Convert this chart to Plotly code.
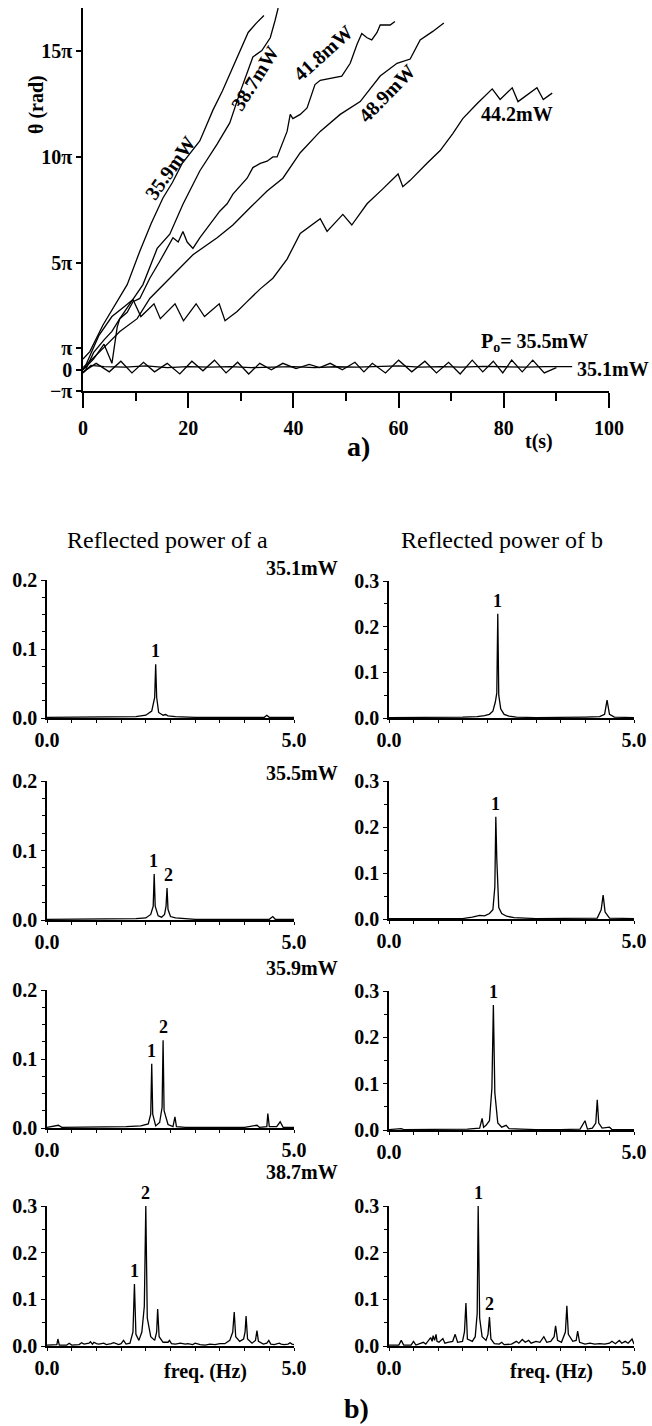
import plotly.graph_objects as go

# ---------------- Panel a) : phase theta(t), in units of pi ----------------
t_359 = [0, 1.3, 3.8, 6, 8.4, 10.8, 13, 15.2, 17, 18.8, 20.5, 22.2, 23.5, 24.7, 26.5, 28.5, 30, 31.4, 33, 34.4]
th_359 = [0.5, 0.85, 2.1, 3.0, 4.0, 5.57, 6.9, 8.07, 8.8, 9.67, 10.2, 10.75, 11.5, 12.2, 13.1, 14.2, 15.0, 15.85, 16.3, 16.65]

t_387 = [0.5, 2, 4, 5.5, 7, 9, 11.4, 14.1, 16.5, 19, 22.2, 25.5, 27.9, 29.8, 32.3, 34, 35.6, 36.5, 37.1]
th_387 = [0, 0.8, 1.4, 1.8, 2.4, 3.1, 4.0, 5.7, 6.37, 7.78, 9.34, 10.6, 11.6, 13.0, 14.7, 15.0, 15.6, 16.4, 17.0]

t_418 = [0, 2, 4, 5.5, 6.5, 7, 8.4, 9.5, 10.8, 12.7, 14.6, 16, 17.1, 18.1, 19, 19.8, 20.9, 22.2, 23.6, 24.7,
         26, 27.4, 28.5, 31.2, 32.3, 33.7, 35, 36.1, 36.9, 38.8, 39.4, 39.9, 41.3, 42.6, 44.1, 45.1, 47, 49.2,
         50.8, 52.1, 53, 54, 54.9, 55.9, 56.5, 58.4, 59.3]
th_418 = [0, 0.5, 1.2, 0.3, 2.0, 2.4, 2.7, 3.2, 3.35, 4.3, 5.1, 5.7, 6.2, 6.0, 6.5, 6.0, 5.7, 6.2, 6.65, 7.0,
          7.45, 7.8, 8.25, 9.0, 9.5, 9.7, 9.8, 10.0, 10.0, 11.2, 12.0, 11.8, 12.0, 12.3, 13.4, 13.6, 13.7, 13.8,
          14.4, 15.3, 15.8, 15.6, 15.5, 15.85, 16.2, 16.2, 16.37]

t_489 = [0, 3.2, 7, 10.3, 12.7, 16.5, 20.9, 25.5, 28.5, 31.7, 35, 38, 41.3, 45.1, 48.9, 52.7, 56.5, 59.7, 62.2, 64.1, 66.5, 68.6]
th_489 = [0.1, 0.85, 1.8, 2.4, 3.35, 4.3, 5.4, 6.2, 6.8, 7.6, 8.4, 9.0, 10.2, 11.2, 12.0, 12.6, 13.8, 14.4, 14.6, 15.5, 15.9, 16.3]

t_442 = [0, 0.4, 3.0, 5.5, 8.0, 9.5, 11.0, 13.5, 14.7, 17.5, 19.1, 21.5, 23.1, 25.9, 27.0, 29.3, 31.2, 33.7, 36.1,
         38.8, 41.3, 42.6, 45.1, 46.4, 49.4, 51.1, 54.0, 57.0, 59.9, 60.8, 62.2, 65.4, 67.9, 70.3, 72.2, 74.9,
         77.8, 79.3, 81.6, 82.7, 86.3, 87.5, 89.2]
th_442 = [0, 0.14, 1.6, 2.5, 3.0, 3.3, 2.5, 3.1, 2.4, 3.1, 2.3, 3.1, 2.5, 3.1, 2.3, 2.74, 3.2, 3.8, 4.3,
          5.2, 6.4, 6.65, 7.1, 6.5, 7.3, 6.8, 7.8, 8.5, 9.2, 8.6, 8.9, 9.7, 10.3, 11.1, 11.8, 12.5,
          13.2, 12.7, 13.25, 12.6, 13.25, 12.7, 13.0]

t_355 = [0, 2.5, 5, 7.2, 9.3, 11.5, 13.6, 16, 18.4, 20.7, 22.8, 25, 27.2, 29.4, 31.5, 33.6, 35.8, 38, 40.5, 43,
         45, 47, 49.3, 51.7, 53.4, 55, 57.5, 60, 62.5, 65, 67.2, 69.5, 71.7, 74, 76, 78, 79.8, 81.5, 83.5, 85.5,
         87.7, 90]
th_355 = [-0.1, 0.3, -0.1, 0.4, -0.15, 0.35, -0.1, 0.3, -0.2, 0.4, -0.05, 0.45, -0.15, 0.35, -0.2, 0.3, 0.0, 0.3,
          0.05, 0.25, 0.1, 0.3, 0.0, 0.35, -0.1, 0.3, -0.15, 0.45, -0.1, 0.4, -0.15, 0.35, -0.2, 0.45, -0.1, 0.4,
          -0.15, 0.45, -0.1, 0.45, -0.15, 0.1]

t_351 = [0, 1.5, 4, 8, 12, 16, 20, 24, 28, 32, 36, 40, 44, 48, 52, 56, 60, 64, 68, 72, 76, 80, 84, 88, 93]
th_351 = [-0.15, 0.2, 0.15, 0.12, 0.18, 0.1, 0.15, 0.12, 0.15, 0.1, 0.12, 0.15, 0.1, 0.14, 0.12, 0.15, 0.18,
          0.12, 0.15, 0.12, 0.16, 0.14, 0.12, 0.15, 0.15]

a_yticks = [-1, 0, 1, 5, 10, 15]
a_yticktext = ["\u2212\u03c0", "0", "\u03c0", "5\u03c0", "10\u03c0", "15\u03c0"]
a_xticks = [0, 20, 40, 60, 80, 100]

# ---------------- Panel b) : spectra (freq in Hz, amplitude) ----------------
f_a1 = [0, 0.5, 1.0, 1.5, 1.8, 2.0, 2.12, 2.18, 2.2, 2.22, 2.26, 2.35, 2.4, 2.45, 2.6, 3.0, 3.5, 4.0, 4.4, 4.45, 4.5, 5.0]
p_a1 = [0.001, 0.001, 0.001, 0.001, 0.002, 0.004, 0.01, 0.03, 0.078, 0.03, 0.008, 0.004, 0.005, 0.003, 0.002,
        0.001, 0.001, 0.001, 0.001, 0.004, 0.001, 0.001]

f_b1 = [0, 0.5, 1.0, 1.5, 1.8, 1.95, 2.05, 2.12, 2.17, 2.2, 2.22, 2.24, 2.28, 2.35, 2.45, 2.6, 3.0, 3.5, 4.0, 4.3,
        4.4, 4.45, 4.5, 4.6, 5.0]
p_b1 = [0.001, 0.001, 0.001, 0.002, 0.003, 0.005, 0.008, 0.015, 0.035, 0.055, 0.228, 0.05, 0.02, 0.008, 0.004,
        0.002, 0.001, 0.001, 0.002, 0.003, 0.008, 0.039, 0.008, 0.002, 0.001]

f_a2 = [0, 0.5, 1.0, 1.5, 1.8, 2.0, 2.1, 2.15, 2.17, 2.19, 2.25, 2.32, 2.38, 2.41, 2.43, 2.45, 2.5, 2.6, 3.0, 3.5,
        4.0, 4.5, 4.57, 4.62, 5.0]
p_a2 = [0.001, 0.001, 0.001, 0.001, 0.002, 0.003, 0.008, 0.02, 0.066, 0.02, 0.006, 0.004, 0.008, 0.02, 0.046,
        0.015, 0.005, 0.003, 0.001, 0.001, 0.001, 0.001, 0.005, 0.001, 0.001]

f_b2 = [0, 0.5, 1.0, 1.5, 1.7, 1.85, 1.95, 2.05, 2.12, 2.16, 2.18, 2.2, 2.24, 2.3, 2.4, 2.55, 3.0, 3.5, 4.0, 4.25,
        4.33, 4.37, 4.41, 4.5, 5.0]
p_b2 = [0.001, 0.001, 0.001, 0.001, 0.004, 0.008, 0.007, 0.012, 0.02, 0.07, 0.222, 0.13, 0.025, 0.012, 0.006,
        0.003, 0.001, 0.001, 0.001, 0.002, 0.02, 0.052, 0.015, 0.002, 0.001]

f_a3 = [0, 0.23, 0.3, 0.8, 1.2, 1.6, 1.9, 2.05, 2.1, 2.12, 2.14, 2.2, 2.28, 2.33, 2.35, 2.37, 2.45, 2.55, 2.59,
        2.62, 2.8, 3.2, 3.6, 4.0, 4.25, 4.3, 4.45, 4.47, 4.5, 4.65, 4.72, 4.78, 5.0]
p_a3 = [0.001, 0.004, 0.001, 0.001, 0.001, 0.002, 0.003, 0.006, 0.02, 0.093, 0.02, 0.003, 0.008, 0.03, 0.127,
        0.025, 0.005, 0.002, 0.016, 0.002, 0.001, 0.001, 0.001, 0.001, 0.004, 0.001, 0.002, 0.021, 0.002, 0.002,
        0.009, 0.001, 0.001]

f_b3 = [0, 0.25, 0.3, 0.8, 1.2, 1.6, 1.85, 1.9, 1.93, 1.98, 2.05, 2.1, 2.13, 2.16, 2.22, 2.3, 2.39, 2.45, 2.7,
        3.0, 3.5, 3.9, 4.0, 4.05, 4.15, 4.22, 4.25, 4.28, 4.35, 4.5, 4.55, 5.0]
p_b3 = [0.001, 0.003, 0.001, 0.001, 0.001, 0.002, 0.004, 0.025, 0.006, 0.01, 0.02, 0.09, 0.27, 0.08, 0.015,
        0.006, 0.01, 0.003, 0.002, 0.001, 0.001, 0.002, 0.02, 0.002, 0.004, 0.015, 0.065, 0.015, 0.004, 0.006,
        0.001, 0.001]

f_a4 = [0, 0.15, 0.2, 0.22, 0.25, 0.4, 0.45, 0.5, 0.65, 0.7, 0.75, 0.85, 0.88, 0.92, 0.95, 1.0, 1.05, 1.15, 1.2,
        1.3, 1.35, 1.45, 1.5, 1.55, 1.6, 1.68, 1.74, 1.77, 1.8, 1.86, 1.92, 1.97, 2.0, 2.03, 2.1, 2.18, 2.22, 2.24,
        2.27, 2.35, 2.45, 2.48, 2.52, 2.6, 2.7, 2.8, 2.85, 2.95, 3.0, 3.1, 3.2, 3.3, 3.4, 3.5, 3.6, 3.7, 3.76,
        3.79, 3.82, 3.9, 3.98, 4.01, 4.03, 4.06, 4.15, 4.22, 4.25, 4.28, 4.38, 4.45, 4.49, 4.53, 4.6, 4.7, 4.74,
        4.8, 4.88, 4.92, 4.96, 5.0]
p_a4 = [0.002, 0.002, 0.003, 0.015, 0.002, 0.002, 0.006, 0.002, 0.003, 0.007, 0.004, 0.006, 0.009, 0.004, 0.008,
        0.005, 0.004, 0.006, 0.003, 0.005, 0.007, 0.003, 0.005, 0.012, 0.004, 0.006, 0.03, 0.133, 0.025, 0.012,
        0.03, 0.085, 0.3, 0.06, 0.02, 0.012, 0.03, 0.079, 0.02, 0.008, 0.008, 0.012, 0.005, 0.004, 0.006, 0.004,
        0.005, 0.003, 0.006, 0.003, 0.002, 0.004, 0.003, 0.005, 0.005, 0.012, 0.03, 0.073, 0.02, 0.01, 0.015,
        0.03, 0.064, 0.015, 0.006, 0.012, 0.033, 0.01, 0.004, 0.006, 0.012, 0.004, 0.003, 0.006, 0.004, 0.003,
        0.004, 0.007, 0.004, 0.003]

f_b4 = [0, 0.2, 0.25, 0.3, 0.45, 0.5, 0.55, 0.7, 0.75, 0.8, 0.85, 0.88, 0.9, 0.93, 0.96, 0.98, 1.02, 1.1, 1.14,
        1.2, 1.3, 1.35, 1.4, 1.5, 1.54, 1.57, 1.6, 1.7, 1.76, 1.8, 1.82, 1.85, 1.9, 1.98, 2.02, 2.05, 2.08, 2.15,
        2.25, 2.3, 2.35, 2.5, 2.6, 2.65, 2.72, 2.78, 2.85, 2.9, 3.0, 3.08, 3.16, 3.22, 3.3, 3.37, 3.4, 3.44, 3.52,
        3.6, 3.63, 3.66, 3.75, 3.82, 3.85, 3.89, 4.0, 4.1, 4.2, 4.3, 4.4, 4.5, 4.55, 4.62, 4.7, 4.75, 4.82, 4.88,
        4.93, 4.96, 5.0]
p_b4 = [0.002, 0.002, 0.012, 0.002, 0.002, 0.01, 0.002, 0.008, 0.004, 0.012, 0.018, 0.01, 0.022, 0.012, 0.025,
        0.01, 0.008, 0.016, 0.006, 0.008, 0.01, 0.025, 0.008, 0.01, 0.03, 0.092, 0.015, 0.01, 0.02, 0.07, 0.3,
        0.06, 0.02, 0.012, 0.025, 0.062, 0.015, 0.005, 0.004, 0.008, 0.003, 0.004, 0.01, 0.006, 0.014, 0.008,
        0.012, 0.006, 0.01, 0.008, 0.02, 0.008, 0.01, 0.02, 0.043, 0.012, 0.008, 0.03, 0.086, 0.025, 0.01, 0.012,
        0.032, 0.008, 0.004, 0.006, 0.004, 0.005, 0.004, 0.006, 0.01, 0.005, 0.012, 0.006, 0.01, 0.006, 0.012,
        0.015, 0.004]

powers = ["35.1mW", "35.5mW", "35.9mW", "38.7mW"]
# peak labels: (freq, height, text)
labels_a = [[(2.2, 0.078, "1")],
            [(2.15, 0.066, "1"), (2.45, 0.046, "2")],
            [(2.12, 0.093, "1"), (2.35, 0.127, "2")],
            [(1.77, 0.133, "1"), (2.0, 0.3, "2")]]
labels_b = [[(2.22, 0.228, "1")],
            [(2.18, 0.222, "1")],
            [(2.13, 0.27, "1")],
            [(1.82, 0.3, "1"), (2.05, 0.062, "2")]]

# ---------------- figure ----------------
FONT = "Liberation Serif"
W, H = 652, 1426


def px(x):
    return x / W


def py(y):
    return 1 - y / H


fig = go.Figure()
line = dict(color="black", width=1.3)

for t, th in [(t_359, th_359), (t_387, th_387), (t_418, th_418), (t_489, th_489),
              (t_442, th_442), (t_355, th_355), (t_351, th_351)]:
    fig.add_trace(go.Scatter(x=t, y=th, mode="lines", line=line, xaxis="x", yaxis="y",
                             showlegend=False, hoverinfo="skip"))

tickfont = dict(family=FONT, size=20, color="black", weight="bold")
layout = dict(
    width=W, height=H, autosize=False,
    margin=dict(l=0, r=0, t=0, b=0, pad=0),
    paper_bgcolor="white", plot_bgcolor="white",
    showlegend=False,
    xaxis=dict(domain=[px(83), px(609)], range=[0, 100], anchor="y", automargin=False,
               showline=True, linecolor="black", linewidth=1.5,
               ticks="outside", ticklen=15, tickwidth=1.5, tickcolor="black", ticklabelstandoff=3,
               tickvals=a_xticks, tickfont=tickfont, showgrid=False, zeroline=False,
               minor=dict(tickmode="linear", tick0=0, dtick=10, ticks="outside", ticklen=8,
                          tickwidth=1.5, tickcolor="black")),
    yaxis=dict(domain=[py(391), py(8)], range=[-1, 17], anchor="x", automargin=False,
               showline=True, linecolor="black", linewidth=1.5,
               ticks="outside", ticklen=5, tickwidth=1.5, tickcolor="black",
               tickvals=a_yticks, ticktext=a_yticktext, tickfont=tickfont,
               showgrid=False, zeroline=False),
)

# spectra panels geometry: (y px of 0.0, y px of top, ymax)
rows_left = [(718, 580, 0.2), (920, 781, 0.2), (1128, 990, 0.2), (1346, 1206, 0.3)]
rows_right = [(718, 581, 0.3), (919, 781, 0.3), (1130, 991, 0.3), (1346, 1206, 0.3)]
spec_a = [(f_a1, p_a1), (f_a2, p_a2), (f_a3, p_a3), (f_a4, p_a4)]
spec_b = [(f_b1, p_b1), (f_b2, p_b2), (f_b3, p_b3), (f_b4, p_b4)]

annotations = []
idx = 2
for r in range(4):
    for col in range(2):
        if col == 0:
            y0, y1, ymax = rows_left[r]
            xd = [px(47), px(294)]
            f, p = spec_a[r]
            labs = labels_a[r]
        else:
            y0, y1, ymax = rows_right[r]
            xd = [px(389), px(634)]
            f, p = spec_b[r]
            labs = labels_b[r]
        xn, yn = f"x{idx}", f"y{idx}"
        fig.add_trace(go.Scatter(x=f, y=p, mode="lines", line=line, xaxis=xn, yaxis=yn,
                                 showlegend=False, hoverinfo="skip"))
        layout[f"xaxis{idx}"] = dict(
            domain=xd, range=[0, 5], anchor=yn, automargin=False,
            showline=True, linecolor="black", linewidth=1.5,
            ticks="outside", ticklen=3, tickwidth=1, tickcolor="black",
            tickvals=[0, 5], ticktext=["0.0", "5.0"], tickfont=tickfont,
            showgrid=False, zeroline=False,
            minor=dict(tickmode="linear", tick0=0, dtick=0.5, ticks="outside", ticklen=3,
                       tickwidth=1, tickcolor="black"))
        layout[f"yaxis{idx}"] = dict(
            domain=[py(y0), py(y1)], range=[0, ymax], anchor=xn, automargin=False,
            showline=True, linecolor="black",
            linewidth=1.5, ticks="outside", ticklen=4, tickwidth=1, tickcolor="black",
            tickmode="linear", tick0=0, dtick=0.1, tickformat=".1f", tickfont=tickfont,
            showgrid=False, zeroline=False,
            minor=dict(tickmode="linear", tick0=0, dtick=(0.025 if ymax == 0.2 else 0.05),
                       ticks="outside", ticklen=3, tickwidth=1, tickcolor="black"))
        for (fx, hy, txt) in labs:
            annotations.append(dict(x=fx, y=hy, xref=xn, yref=yn, text=txt, showarrow=False,
                                    xanchor="center", yanchor="bottom", yshift=1,
                                    font=dict(family=FONT, size=18, color="black", weight="bold")))
        idx += 1

lab = dict(family=FONT, size=20, color="black", weight="bold")


def note(x, y, text, font=lab, xanchor="center", yanchor="middle", angle=0, ref="paper"):
    d = dict(x=x, y=y, text=text, showarrow=False, font=font, xanchor=xanchor, yanchor=yanchor,
             textangle=angle)
    if ref == "paper":
        d.update(xref="paper", yref="paper")
    else:
        d.update(xref="x", yref="y")
    return d


# panel a annotations
annotations += [
    note(px(36), py(105), "\u03b8 (rad)", angle=-90),
    note(16.5, 9.5, "35.9mW", angle=-55, ref="data"),
    note(32.7, 13.7, "38.7mW", angle=-58, ref="data"),
    note(45.6, 14.9, "41.8mW", angle=-42, ref="data"),
    note(57.8, 13.0, "48.9mW", angle=-46, ref="data"),
    note(82.5, 12.0, "44.2mW", ref="data"),
    note(85.9, 1.3, "P<sub>o</sub>= 35.5mW", ref="data"),
    note(93.5, 0.05, "35.1mW", xanchor="left", ref="data"),
    note(px(539), py(441), "t(s)"),
    note(px(358), py(447), "a)", font=dict(family=FONT, size=28, color="black", weight="bold")),
]
# panel b annotations
title_font = dict(family=FONT, size=24, color="black")
annotations += [
    note(px(167), py(540), "Reflected power of a", font=title_font),
    note(px(502), py(540), "Reflected power of b", font=title_font),
    note(px(205), py(1371), "freq. (Hz)"),
    note(px(551), py(1371), "freq. (Hz)"),
    note(px(357), py(1408), "b)", font=dict(family=FONT, size=28, color="black", weight="bold")),
]
for ypos, ptxt in zip([568, 773, 968, 1172], powers):
    annotations.append(note(px(340), py(ypos), ptxt, xanchor="right"))

layout["annotations"] = annotations
fig.update_layout(**layout)
fig.write_html("out.html", config={"displayModeBar": False},
               post_script="document.body.style.margin='0';")
